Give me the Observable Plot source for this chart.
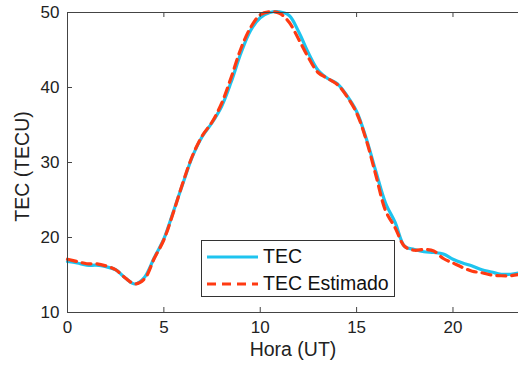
<!DOCTYPE html>
<html>
<head>
<meta charset="utf-8">
<script src="https://cdn.jsdelivr.net/npm/d3@7"></script>
<script src="https://cdn.jsdelivr.net/npm/@observablehq/plot@0.6"></script>
<style>
  html, body { margin: 0; padding: 0; background: #fff; }
  #wrap { position: relative; width: 518px; height: 369px; font-family: "Liberation Sans", Arial, sans-serif; }
  #legend { position: absolute; left: 201px; top: 240px; width: 194px; height: 57px; border: 1px solid #333; background: #fff; box-sizing: border-box; }
  .row { position: absolute; left: 0; display: flex; align-items: center; font-size: 19.5px; color: #111; }
  .row svg { margin-left: 5px; margin-right: 5px; }
</style>
</head>
<body>
<div id="wrap"></div>
<script>
const hours = [0,0.5,1,1.5,2,2.5,3,3.5,4,4.5,5,5.5,6,6.5,7,7.5,8,8.5,9,9.5,10,10.5,11,11.5,12,12.5,13,13.5,14,14.5,15,15.5,16,16.5,17,17.5,18,18.5,19,19.5,20,20.5,21,21.5,22,22.5,23,23.5];
const tec = [16.8,16.6,16.3,16.3,16.1,15.7,14.6,13.8,14.7,17.3,19.8,23.5,27.3,30.9,33.5,35.3,37.5,40.8,44.6,47.6,49.3,50.0,50.1,49.6,47.4,44.6,42.3,41.2,40.5,38.9,36.8,33.2,28.8,24.6,22.0,18.8,18.4,18.1,18.0,17.8,17.1,16.6,16.2,15.7,15.4,15.1,15.1,15.3];
const tecEst = [17.1,16.8,16.5,16.5,16.2,15.7,14.6,13.8,14.5,17.2,19.7,23.4,27.4,31.0,33.6,35.4,37.9,41.4,45.2,48.0,49.7,50.1,49.9,48.7,46.4,44.0,42.0,41.2,40.4,38.8,36.6,33.0,28.3,23.6,21.3,18.8,18.3,18.4,18.2,17.2,16.6,16.0,15.5,15.3,15.0,14.9,14.9,15.1];
const seriesNames = ["TEC", "TEC Estimado"];
const seriesColors = ["#1ec4ef", "#ff3a12"];
const xTicks = [0,5,10,15,20];
const yTicks = [10,20,30,40,50];
const xLabel = "Hora (UT)";
const yLabel = "TEC (TECU)";

const rowsA = hours.map((h,i) => ({h, v: tec[i]}));
const rowsB = hours.map((h,i) => ({h, v: tecEst[i]}));

const W = 518, H = 369, mL = 67, mR = 0, mT = 12, mB = 57;
const plotW = W - mL - mR, plotH = H - mT - mB, tickLen = 5;

const chart = Plot.plot({
  width: W,
  height: H,
  marginLeft: mL,
  marginRight: mR,
  marginTop: mT,
  marginBottom: mB,
  style: {fontFamily: "Liberation Sans, Arial, sans-serif", fontSize: "17px", color: "#222", background: "#fff"},
  x: {domain: [0, 23.4], label: null},
  y: {domain: [10, 50], label: null},
  marks: [
    Plot.line(rowsA, {x: "h", y: "v", stroke: seriesColors[0], strokeWidth: 3.2, curve: "catmull-rom"}),
    Plot.line(rowsB, {x: "h", y: "v", stroke: seriesColors[1], strokeWidth: 3.2, strokeDasharray: "9,6", curve: "catmull-rom"}),
    Plot.frame({stroke: "#444", strokeWidth: 1}),
    Plot.tickX(xTicks, {x: d => d, insetTop: plotH - tickLen, stroke: "#444"}),
    Plot.tickX(xTicks, {x: d => d, insetBottom: plotH - tickLen, stroke: "#444"}),
    Plot.tickY(yTicks, {y: d => d, insetRight: plotW - tickLen, stroke: "#444"}),
    Plot.axisX({anchor: "bottom", ticks: xTicks, tickSize: 0, tickPadding: 8, fontSize: 17, fill: "#222"}),
    Plot.axisY({anchor: "left", ticks: yTicks, tickSize: 0, tickPadding: 8, fontSize: 17, fill: "#222"}),
    Plot.text([xLabel], {frameAnchor: "bottom", dy: 43, text: d => d, fontSize: 19.5, fill: "#222"}),
    Plot.text([yLabel], {frameAnchor: "left", textAnchor: "middle", dx: -45, dy: 4, rotate: -90, text: d => d, fontSize: 19.5, fill: "#222"})
  ]
});

const wrap = document.getElementById("wrap");
wrap.appendChild(chart);

const legend = document.createElement("div");
legend.id = "legend";
seriesNames.forEach((name, i) => {
  const row = document.createElement("div");
  row.className = "row";
  row.style.top = (i === 0 ? 4 : 31) + "px";
  const dash = i === 1 ? 'stroke-dasharray="9,6"' : '';
  row.innerHTML = `<svg width="51" height="20"><line x1="0" x2="51" y1="10" y2="10" stroke="${seriesColors[i]}" stroke-width="3.2" ${dash}/></svg><span>${name}</span>`;
  legend.appendChild(row);
});
wrap.appendChild(legend);
</script>
</body>
</html>
